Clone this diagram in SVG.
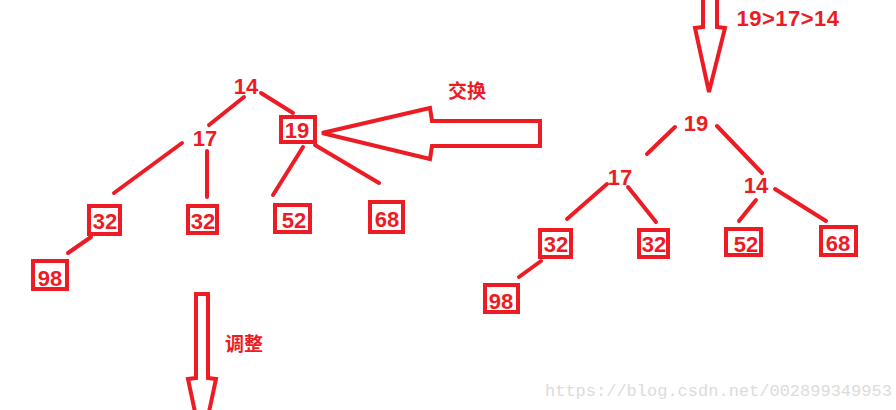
<svg xmlns="http://www.w3.org/2000/svg" width="896" height="410" viewBox="0 0 896 410">
<style>
.t{font-family:"Liberation Sans","Noto Sans CJK SC",sans-serif;font-weight:bold;font-size:22px;fill:#ED1C24;text-anchor:middle;dominant-baseline:central}
.c{font-family:"Noto Sans CJK SC","Liberation Sans",sans-serif;font-weight:bold;font-size:19px;fill:#ED1C24;text-anchor:middle;dominant-baseline:central}
.b{fill:#fff;stroke:#ED1C24;stroke-width:4}
.e{stroke:#ED1C24;stroke-width:4;stroke-linecap:round;fill:none}
.a{stroke:#ED1C24;stroke-width:4;fill:none;stroke-linejoin:miter}
.w{font-family:"Liberation Mono",monospace;font-size:17px;fill:#dcdcdc}
</style>
<rect width="896" height="410" fill="#fff"/>
<g id="connectors">
<line class="e" x1="244" y1="97" x2="209" y2="125"/>
<line class="e" x1="261" y1="93" x2="293" y2="113"/>
<line class="e" x1="182" y1="143" x2="114" y2="193"/>
<line class="e" x1="207" y1="151" x2="207" y2="197"/>
<line class="e" x1="303" y1="147" x2="273" y2="195"/>
<line class="e" x1="315" y1="145" x2="379" y2="183"/>
<line class="e" x1="91" y1="237" x2="68" y2="253"/>
<line class="e" x1="675" y1="127" x2="647" y2="154"/>
<line class="e" x1="717" y1="126" x2="762" y2="173"/>
<line class="e" x1="607" y1="184" x2="567" y2="219"/>
<line class="e" x1="628" y1="187" x2="656" y2="222"/>
<line class="e" x1="756" y1="200" x2="739" y2="221"/>
<line class="e" x1="775" y1="189" x2="826" y2="221"/>
<line class="e" x1="541" y1="261" x2="519" y2="277"/>
</g>
<g id="arrow-swap">
<polygon class="a" points="322,133 430,108 432,121 540,121 540,146 432,146 430,159"/>
<text class="c" x="467" y="89">交换</text>
</g>
<g id="arrow-top">
<polyline class="a" points="703,0 703,27 695,28 709,92 725,28 717,27 717,0"/>
<text class="t" x="788" y="18" style="letter-spacing:0.5px">19&gt;17&gt;14</text>
</g>
<g id="arrow-adjust">
<polyline class="a" points="195,412 188,379 196,378 196,294 208,294 208,378 216,379 209,412"/>
<text class="c" x="244" y="342">调整</text>
</g>
<g id="L14"><text class="t" x="246" y="86">14</text></g>
<g id="L17"><text class="t" x="205" y="138">17</text></g>
<g id="L19"><rect class="b" x="281" y="117" width="34" height="25"/><text class="t" x="297" y="130">19</text></g>
<g id="L32a"><rect class="b" x="89" y="206" width="31" height="28"/><text class="t" x="105" y="221">32</text></g>
<g id="L32b"><rect class="b" x="188" y="206" width="29" height="27"/><text class="t" x="203" y="221">32</text></g>
<g id="L52"><rect class="b" x="275" y="205" width="35" height="27"/><text class="t" x="294" y="220">52</text></g>
<g id="L68"><rect class="b" x="370" y="202" width="33" height="30"/><text class="t" x="387" y="219">68</text></g>
<g id="L98"><rect class="b" x="33" y="261" width="34" height="28"/><text class="t" x="50" y="278">98</text></g>
<g id="R19"><text class="t" x="696" y="123">19</text></g>
<g id="R17"><text class="t" x="620" y="177">17</text></g>
<g id="R14"><text class="t" x="756" y="185">14</text></g>
<g id="R32a"><rect class="b" x="540" y="230" width="31" height="27"/><text class="t" x="556" y="244">32</text></g>
<g id="R32b"><rect class="b" x="639" y="230" width="29" height="27"/><text class="t" x="654" y="244">32</text></g>
<g id="R52"><rect class="b" x="726" y="229" width="35" height="26"/><text class="t" x="746" y="244">52</text></g>
<g id="R68"><rect class="b" x="821" y="227" width="35" height="28"/><text class="t" x="838" y="243">68</text></g>
<g id="R98"><rect class="b" x="485" y="285" width="33" height="27"/><text class="t" x="501" y="301">98</text></g>
<text class="w" x="545" y="396">https://blog.csdn.net/002899349953</text>
</svg>
